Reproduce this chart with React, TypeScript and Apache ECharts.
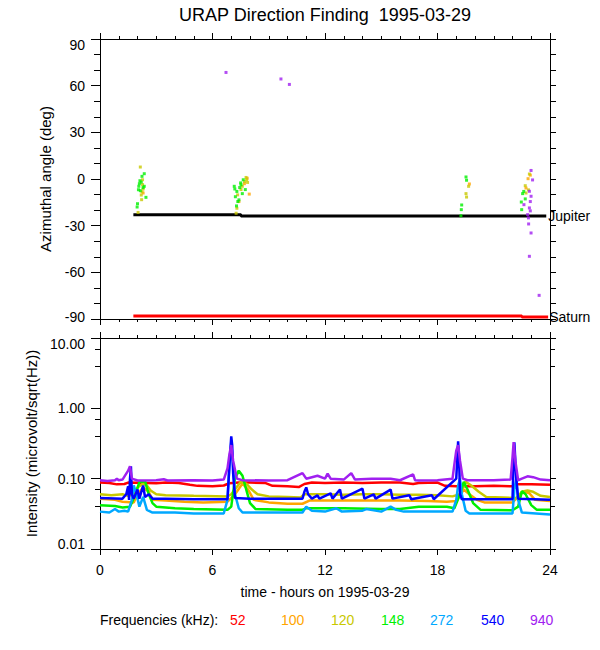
import React, { useEffect, useRef } from "react";
import * as echarts from "echarts";

const FONT = "'Liberation Sans', Arial, Helvetica, sans-serif";

const TITLE = "URAP Direction Finding  1995-03-29";
const X_NAME = "time - hours on 1995-03-29";
const AZ_NAME = "Azimuthal angle (deg)";
const INT_NAME = "Intensity (microvolt/sqrt(Hz))";
const LEGEND_TITLE = "Frequencies (kHz):";

const FREQS = ["52", "100", "120", "148", "272", "540", "940"];
const COLORS = ["#ff0000", "#ffa500", "#c8c800", "#00f000", "#00a8ff", "#0000ff", "#a020f0"];
const LEGEND_X = [230, 281, 331, 381, 430, 481, 530];

// Top panel: reference directions
const JUPITER: [number, number][] = [[1.78, -23], [7.52, -23], [7.52, -23.8], [23.8, -23.8]];
const SATURN: [number, number][] = [[1.78, -88], [22.5, -88], [22.5, -88.7], [23.9, -88.7]];

// Top panel: measured azimuths (hour, deg)
const AZ_100: [number, number][] = [
  [2.3, -9], [7.96, -9.7], [7.41, -14.5], [7.85, 0.5], [7.7, -3], [19.7, -3.2],
  [22.83, 0.2], [22.72, -5.8], [22.95, 2.5],
];
const AZ_120: [number, number][] = [
  [2.15, 7.7], [2.27, -0.5], [2.27, -3.6], [2.3, -6.4], [2.24, -8.2], [2.2, -10.3], [2.22, -13.3], [2.03, -21.5],
  [7.79, 1.0], [7.87, -2.2], [7.71, -1.7], [7.59, -4.7], [7.52, -6.8], [7.34, -10.2], [7.3, -18.8], [7.26, -22], [7.82, -0.5],
  [19.66, -4.7], [19.52, -9.4], [19.55, -11.6],
  [22.9, 3.2], [22.68, -4.3], [22.72, -9], [22.85, -7],
];
const AZ_148: [number, number][] = [
  [2.36, 3.4], [2.24, 1.7], [2.13, -1.1], [2.1, -3.0], [2.36, -4.7], [2.07, -4.7], [2.05, -6.9], [2.45, -11.8],
  [2.0, -15.9], [1.98, -18], [2.2, -2], [2.3, -5.5], [2.15, -7.5],
  [7.64, -0.5], [7.52, -3.7], [7.16, -4.7], [7.75, -6.8], [7.19, -6.4], [7.59, -9.4], [7.22, -11.4], [7.41, -13.4],
  [7.28, -17.3], [7.45, -5.5], [7.3, -8], [7.5, -2.5], [7.35, -14.5],
  [19.52, 1.3], [19.55, -0.8], [19.29, -16.7], [19.27, -19.7], [19.25, -23.6],
  [22.54, -9.4], [22.68, -12.8], [22.47, -14.8], [22.49, -19.7], [22.6, -8],
];
const AZ_940: [number, number][] = [
  [6.72, 68.5], [9.65, 64.3], [10.1, 60.8],
  [22.99, 5.5], [23.07, -0.6], [22.9, -7.9], [22.99, -11.1], [22.95, -14.5], [22.61, -16.5], [22.9, -18.6],
  [22.81, -22.9], [22.86, -28.9], [22.99, -34.7], [22.9, -49.7], [23.42, -74.8], [22.95, -20.5], [22.85, -25],
];

// Bottom panel: intensities (hour, microvolt/sqrt(Hz))
const I_52: [number, number][] = [
  [0, 0.088], [0.5, 0.087], [0.9, 0.083], [1.3, 0.084], [1.5, 0.088], [2.5, 0.087], [3, 0.086], [3.5, 0.088],
  [4.2, 0.087], [4.8, 0.082], [5.2, 0.079], [6, 0.078], [6.6, 0.08], [6.9, 0.086], [7.4, 0.088], [8, 0.088],
  [8.8, 0.087], [9.2, 0.079], [10, 0.078], [10.6, 0.076], [10.9, 0.084], [11.3, 0.088], [12, 0.087], [13, 0.088],
  [14, 0.087], [15, 0.088], [16, 0.088], [16.7, 0.084], [17, 0.087], [18, 0.088], [18.4, 0.079], [19, 0.078],
  [20, 0.078], [21, 0.079], [22, 0.078], [22.2, 0.083], [23, 0.083], [24, 0.082],
];
const I_100: [number, number][] = [
  [0, 0.052], [0.8, 0.05], [1.2, 0.047], [1.8, 0.046], [2.0, 0.06], [2.3, 0.075], [2.6, 0.065], [2.8, 0.05],
  [3.5, 0.049], [4.5, 0.047], [5.5, 0.046], [6.8, 0.047], [7.2, 0.06], [7.6, 0.085], [7.9, 0.07], [8.2, 0.05],
  [9, 0.046], [10, 0.044], [10.8, 0.044], [11.2, 0.049], [13, 0.049], [15, 0.049], [16, 0.049], [17.5, 0.048],
  [18.5, 0.047], [19, 0.048], [19.4, 0.07], [19.7, 0.06], [20.1, 0.05], [20.5, 0.046], [22, 0.046], [22.3, 0.055],
  [22.6, 0.066], [22.9, 0.062], [23.2, 0.05], [24, 0.048],
];
const I_120: [number, number][] = [
  [0, 0.06], [0.6, 0.058], [1.2, 0.06], [1.5, 0.057], [1.8, 0.06], [2.0, 0.075], [2.3, 0.085], [2.5, 0.08],
  [2.7, 0.068], [3.0, 0.06], [3.5, 0.058], [5, 0.057], [6.8, 0.056], [7.0, 0.06], [7.5, 0.09], [7.8, 0.085],
  [8.1, 0.07], [8.4, 0.06], [9, 0.056], [10, 0.055], [10.7, 0.054], [10.9, 0.06], [12, 0.06], [13, 0.059],
  [14, 0.06], [15, 0.06], [16, 0.059], [17, 0.059], [18, 0.058], [18.8, 0.056], [19.2, 0.06], [19.5, 0.09],
  [19.8, 0.08], [20.2, 0.065], [20.6, 0.055], [21.5, 0.054], [22.2, 0.053], [22.5, 0.065], [22.8, 0.068],
  [23.1, 0.065], [23.5, 0.057], [24, 0.055],
];
const I_148: [number, number][] = [
  [0, 0.042], [0.8, 0.041], [1.2, 0.039], [1.6, 0.04], [1.9, 0.06], [2.1, 0.09], [2.4, 0.092], [2.6, 0.06],
  [2.8, 0.045], [3, 0.04], [4, 0.038], [5, 0.037], [6.8, 0.036], [7.0, 0.04], [7.2, 0.1], [7.4, 0.13],
  [7.6, 0.11], [7.8, 0.07], [8.0, 0.045], [8.3, 0.037], [10, 0.036], [10.8, 0.036], [11, 0.038], [13, 0.038],
  [15, 0.037], [16, 0.037], [17, 0.04], [18.5, 0.04], [18.9, 0.038], [19.2, 0.06], [19.4, 0.09], [19.6, 0.07],
  [19.9, 0.045], [20.3, 0.036], [22, 0.0355], [22.3, 0.04], [22.5, 0.066], [22.7, 0.06], [23, 0.042],
  [23.3, 0.036], [24, 0.036],
];
const I_272: [number, number][] = [
  [0, 0.034], [0.5, 0.033], [0.8, 0.037], [1.0, 0.034], [1.3, 0.035], [1.5, 0.034], [1.7, 0.05], [1.8, 0.08],
  [1.95, 0.06], [2.1, 0.04], [2.3, 0.055], [2.5, 0.036], [2.8, 0.033], [4, 0.033], [5, 0.032], [6.6, 0.032],
  [6.8, 0.05], [6.9, 0.15], [7.0, 0.33], [7.1, 0.15], [7.2, 0.06], [7.4, 0.038], [7.6, 0.033], [9, 0.033],
  [10.8, 0.033], [11.0, 0.04], [11.3, 0.035], [12, 0.034], [12.6, 0.038], [12.9, 0.034], [14, 0.035],
  [14.2, 0.037], [15, 0.034], [15.5, 0.04], [15.8, 0.036], [16.2, 0.034], [17, 0.034], [18.8, 0.034],
  [19.0, 0.05], [19.1, 0.08], [19.2, 0.1], [19.3, 0.06], [19.5, 0.035], [19.7, 0.032], [22, 0.032],
  [22.1, 0.07], [22.2, 0.1], [22.3, 0.05], [22.5, 0.033], [24, 0.031],
];
const I_540: [number, number][] = [
  [0, 0.053], [1.2, 0.052], [1.4, 0.06], [1.5, 0.078], [1.55, 0.05], [1.6, 0.1], [1.65, 0.15], [1.7, 0.06],
  [1.8, 0.052], [2.0, 0.07], [2.1, 0.052], [2.3, 0.08], [2.4, 0.055], [2.6, 0.06], [2.8, 0.052], [3.5, 0.052],
  [5, 0.051], [6.8, 0.051], [6.9, 0.15], [7.0, 0.4], [7.05, 0.3], [7.1, 0.12], [7.2, 0.053], [8, 0.052],
  [10.8, 0.052], [10.9, 0.065], [11.0, 0.075], [11.1, 0.06], [11.3, 0.052], [11.6, 0.058], [11.7, 0.052],
  [12.3, 0.062], [12.4, 0.052], [12.8, 0.07], [12.9, 0.052], [14, 0.072], [14.1, 0.052], [14.6, 0.06],
  [14.7, 0.052], [15.5, 0.07], [15.6, 0.052], [16.5, 0.058], [16.6, 0.051], [17.7, 0.058], [17.8, 0.051],
  [19.0, 0.1], [19.1, 0.34], [19.15, 0.2], [19.2, 0.06], [19.3, 0.051], [22.0, 0.051], [22.05, 0.15],
  [22.1, 0.33], [22.2, 0.1], [22.3, 0.052], [24, 0.05],
];
const I_940: [number, number][] = [
  [0, 0.095], [0.4, 0.093], [0.8, 0.095], [0.9, 0.1], [1.0, 0.095], [1.2, 0.097], [1.5, 0.13], [1.6, 0.15],
  [1.7, 0.1], [2, 0.094], [3, 0.095], [3.4, 0.098], [3.6, 0.094], [5, 0.095], [6, 0.094], [6.6, 0.097],
  [6.8, 0.14], [6.9, 0.22], [7.0, 0.3], [7.1, 0.18], [7.3, 0.1], [7.6, 0.095], [9, 0.094], [10, 0.095],
  [10.8, 0.12], [11.0, 0.1], [11.6, 0.11], [12, 0.1], [12.14, 0.118], [12.3, 0.1], [13, 0.097], [13.4, 0.12],
  [13.6, 0.097], [14.5, 0.1], [15.5, 0.1], [16, 0.095], [16.7, 0.115], [16.8, 0.095], [17, 0.094],
  [18, 0.095], [18.8, 0.1], [18.9, 0.16], [19.0, 0.25], [19.1, 0.3], [19.2, 0.18], [19.35, 0.1],
  [19.6, 0.095], [21, 0.095], [21.9, 0.097], [22.0, 0.2], [22.06, 0.33], [22.15, 0.18], [22.3, 0.095],
  [22.5, 0.1], [22.8, 0.108], [23.1, 0.105], [23.5, 0.097], [24, 0.095],
];

const AZ_SERIES: { data: [number, number][]; colorIndex: number }[] = [
  { data: AZ_100, colorIndex: 1 },
  { data: AZ_120, colorIndex: 2 },
  { data: AZ_148, colorIndex: 3 },
  { data: AZ_940, colorIndex: 6 },
];
const INT_SERIES = [I_52, I_100, I_120, I_148, I_272, I_540, I_940];

const labelStyle = { color: "#000", fontSize: 14, fontFamily: FONT };
const black = { color: "#000", width: 1 };
const nudgeRich = {
  n: { ...labelStyle },
  dn: { ...labelStyle, padding: [11, 0, 0, 0] },
  dn2: { ...labelStyle, padding: [12, 0, 0, 0] },
  up: { ...labelStyle, padding: [0, 0, 4, 0] },
  up2: { ...labelStyle, padding: [0, 0, 10, 0] },
};

function xAxis(gridIndex: number, position: string, showLabel: boolean, name?: string) {
  return {
    type: "value",
    gridIndex,
    position,
    min: 0,
    max: 24,
    interval: 6,
    axisLine: { show: true, onZero: false, lineStyle: black },
    axisTick: { show: true, length: 6, lineStyle: black },
    minorTick: { show: true, splitNumber: 6, length: 3, lineStyle: black },
    splitLine: { show: false },
    minorSplitLine: { show: false },
    axisLabel: { show: showLabel, margin: 14, ...labelStyle, formatter: (v: number) => String(v) },
    name: name || "",
    nameLocation: "middle",
    nameGap: 36,
    nameTextStyle: { ...labelStyle },
  };
}

export default function App() {
  const ref = useRef<HTMLDivElement>(null);
  useEffect(() => {
    if (!ref.current) return;
    const chart = echarts.init(ref.current, undefined, { renderer: "svg" });
    const series: any[] = [];
    series.push({
      type: "line",
      xAxisIndex: 0,
      yAxisIndex: 0,
      data: SATURN,
      showSymbol: false,
      symbol: "none",
      lineStyle: { color: "#ff0000", width: 3 },
      clip: false,
      endLabel: { show: true, formatter: () => "Saturn", distance: 1, ...labelStyle },
      silent: true,
      z: 3,
    });
    series.push({
      type: "line",
      xAxisIndex: 0,
      yAxisIndex: 0,
      data: JUPITER,
      showSymbol: false,
      symbol: "none",
      lineStyle: { color: "#000", width: 3 },
      clip: false,
      endLabel: { show: true, formatter: () => "Jupiter", distance: 2, ...labelStyle },
      silent: true,
      z: 3,
    });
    AZ_SERIES.forEach((s) => {
      series.push({
        type: "scatter",
        xAxisIndex: 0,
        yAxisIndex: 0,
        data: s.data,
        symbol: "rect",
        symbolSize: 3,
        itemStyle: { color: COLORS[s.colorIndex] },
        silent: true,
        z: 4,
      });
    });
    INT_SERIES.forEach((d, i) => {
      series.push({
        type: "line",
        xAxisIndex: 2,
        yAxisIndex: 2,
        data: d,
        showSymbol: false,
        symbol: "none",
        lineStyle: { color: COLORS[i], width: 2.5 },
        silent: true,
        z: 3,
      });
    });

    const graphic: any[] = [
      {
        type: "text",
        x: 325,
        y: 15,
        style: { text: TITLE, fill: "#000", fontSize: 18, fontFamily: FONT, align: "center", verticalAlign: "middle" },
      },
      {
        type: "text",
        x: 100,
        y: 620,
        style: { text: LEGEND_TITLE, fill: "#000", fontSize: 14, fontFamily: FONT, align: "left", verticalAlign: "middle" },
      },
    ];
    FREQS.forEach((f, i) => {
      graphic.push({
        type: "text",
        x: LEGEND_X[i],
        y: 620,
        style: { text: f, fill: COLORS[i], fontSize: 14, fontFamily: FONT, align: "left", verticalAlign: "middle" },
      });
    });

    const option: any = {
      animation: false,
      backgroundColor: "#fff",
      textStyle: { fontFamily: FONT },
      grid: [
        { left: 100, top: 39, width: 450, height: 280 },
        { left: 100, top: 338, width: 450, height: 211 },
      ],
      xAxis: [
        xAxis(0, "bottom", false),
        xAxis(0, "top", false),
        xAxis(1, "bottom", true, X_NAME),
        xAxis(1, "top", false),
      ],
      yAxis: [
        {
          type: "value",
          gridIndex: 0,
          position: "left",
          min: -90,
          max: 90,
          interval: 30,
          axisLine: { show: true, onZero: false, lineStyle: black },
          axisTick: { show: true, length: 9, lineStyle: black },
          minorTick: { show: true, splitNumber: 3, length: 6, lineStyle: black },
          splitLine: { show: false },
          minorSplitLine: { show: false },
          axisLabel: {
            margin: 15,
            ...labelStyle,
            rich: nudgeRich,
            formatter: (v: number) => {
              const s = String(v);
              if (v >= 90) return "{dn|" + s + "}";
              if (v <= -90) return "{up|" + s + "}";
              return "{n|" + s + "}";
            },
          },
          name: AZ_NAME,
          nameLocation: "middle",
          nameGap: 47,
          nameTextStyle: { ...labelStyle, fontSize: 15 },
        },
        {
          type: "value",
          gridIndex: 0,
          position: "right",
          min: -90,
          max: 90,
          interval: 30,
          axisLine: { show: true, onZero: false, lineStyle: black },
          axisTick: { show: true, length: 6, lineStyle: black },
          minorTick: { show: true, splitNumber: 3, length: 6, lineStyle: black },
          splitLine: { show: false },
          minorSplitLine: { show: false },
          axisLabel: { show: false },
        },
        {
          type: "log",
          logBase: 10,
          gridIndex: 1,
          position: "left",
          min: 0.01,
          max: 10,
          axisLine: { show: true, onZero: false, lineStyle: black },
          axisTick: { show: true, length: 9, lineStyle: black },
          minorTick: { show: true, splitNumber: 3, length: 5, lineStyle: black },
          splitLine: { show: false },
          minorSplitLine: { show: false },
          axisLabel: {
            margin: 15,
            ...labelStyle,
            rich: nudgeRich,
            formatter: (v: number) => {
              const s = Number(v).toFixed(2);
              if (v >= 9.99) return "{dn2|" + s + "}";
              if (v <= 0.0101) return "{up2|" + s + "}";
              return "{n|" + s + "}";
            },
          },
          name: INT_NAME,
          nameLocation: "middle",
          nameGap: 60,
          nameTextStyle: { ...labelStyle, fontSize: 15 },
        },
        {
          type: "log",
          logBase: 10,
          gridIndex: 1,
          position: "right",
          min: 0.01,
          max: 10,
          axisLine: { show: true, onZero: false, lineStyle: black },
          axisTick: { show: true, length: 6, lineStyle: black },
          minorTick: { show: true, splitNumber: 3, length: 5, lineStyle: black },
          splitLine: { show: false },
          minorSplitLine: { show: false },
          axisLabel: { show: false },
        },
      ],
      series,
      graphic,
    };
    chart.setOption(option);
    return () => chart.dispose();
  }, []);
  return (
    <div
      ref={ref}
      style={{ position: "fixed", left: 0, top: 0, width: 600, height: 650, background: "#fff" }}
    />
  );
}
